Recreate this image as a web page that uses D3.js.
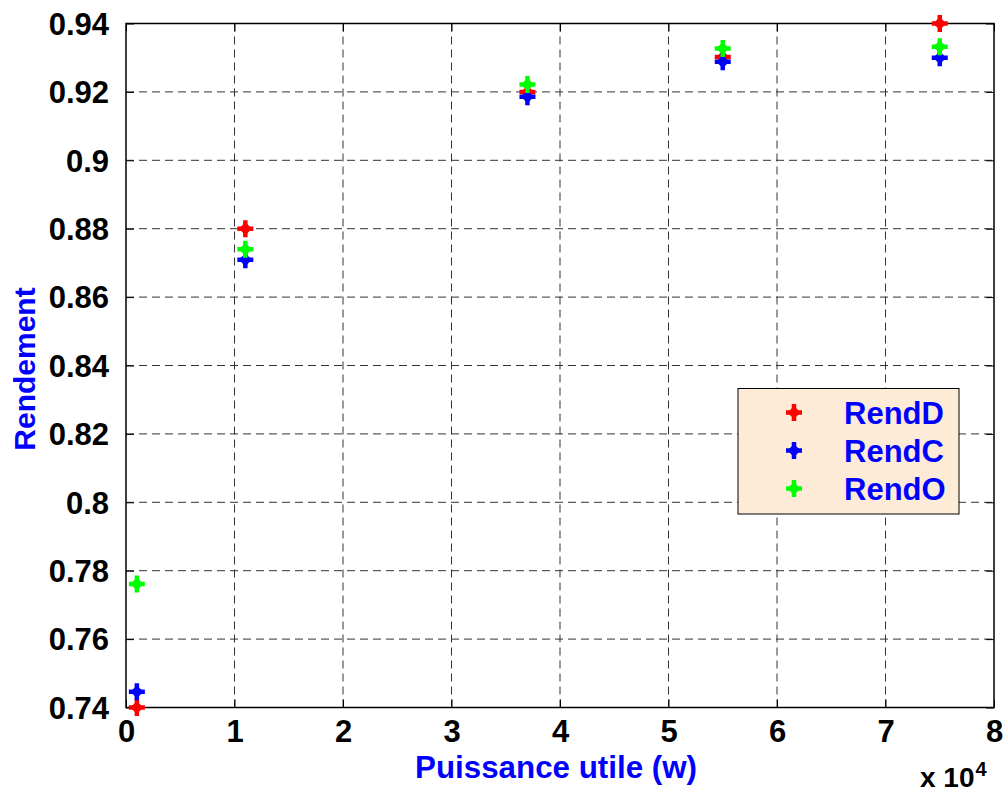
<!DOCTYPE html>
<html>
<head>
<meta charset="utf-8">
<script src="https://cdn.jsdelivr.net/npm/d3@7"></script>
<style>
  html, body { margin: 0; padding: 0; background: #fff; }
  svg { display: block; }
  text { font-family: "Liberation Sans", Arial, Helvetica, sans-serif; font-weight: bold; }
</style>
</head>
<body>
<svg id="chart" width="1004" height="792"></svg>
<script>
// Output power (W) at each operating point
const power = [1000, 11000, 37000, 55000, 75000];
// Efficiency series
const rendD = [0.740, 0.880, 0.920, 0.9302, 0.940];
const rendC = [0.7446, 0.8709, 0.9186, 0.9288, 0.9300];
const rendO = [0.7761, 0.8740, 0.9222, 0.9327, 0.9332];

const seriesNames = ["RendD", "RendC", "RendO"];
const seriesColors = ["#ff0000", "#0000ff", "#00ff00"];
const seriesValues = [rendD, rendC, rendO];

const xTicks = [0, 10000, 20000, 30000, 40000, 50000, 60000, 70000, 80000];
const yTicks = [0.74, 0.76, 0.78, 0.80, 0.82, 0.84, 0.86, 0.88, 0.90, 0.92, 0.94];

const xLabel = "Puissance utile (w)";
const yLabel = "Rendement";

const svg = d3.select("#chart");
const plotLeft = 126, plotRight = 994, plotTop = 23.5, plotBottom = 707.5;

const x = d3.scaleLinear().domain([0, 80000]).range([plotLeft, plotRight]);
const y = d3.scaleLinear().domain([0.74, 0.94]).range([plotBottom, plotTop]);

// Dashed grid
const grid = svg.append("g").attr("stroke", "#333").attr("stroke-width", 1)
  .attr("stroke-dasharray", "8,5").attr("fill", "none");
grid.selectAll("line.gx").data(xTicks.slice(1, -1)).join("line")
  .attr("class", "gx")
  .attr("x1", d => x(d)).attr("x2", d => x(d)).attr("y1", plotTop).attr("y2", plotBottom);
grid.selectAll("line.gy").data(yTicks.slice(1, -1)).join("line")
  .attr("class", "gy")
  .attr("x1", plotLeft).attr("x2", plotRight).attr("y1", d => y(d)).attr("y2", d => y(d));

// Axes with inward ticks; labels drawn by the axis generators
const fmtX = d => d3.format("d")(d / 10000);
const fmtY = d => String(+d.toFixed(2));

const xAxis = svg.append("g").attr("transform", `translate(0,${plotBottom})`)
  .call(d3.axisBottom(x).tickValues(xTicks).tickFormat(fmtX).tickSizeInner(-8).tickSizeOuter(0).tickPadding(14));
const yAxis = svg.append("g").attr("transform", `translate(${plotLeft},0)`)
  .call(d3.axisLeft(y).tickValues(yTicks).tickFormat(fmtY).tickSizeInner(-8).tickSizeOuter(0).tickPadding(17));
const xAxisTop = svg.append("g").attr("transform", `translate(0,${plotTop})`)
  .call(d3.axisTop(x).tickValues(xTicks).tickFormat("").tickSizeInner(-8).tickSizeOuter(0));
const yAxisRight = svg.append("g").attr("transform", `translate(${plotRight},0)`)
  .call(d3.axisRight(y).tickValues(yTicks).tickFormat("").tickSizeInner(-8).tickSizeOuter(0));

[xAxis, yAxis, xAxisTop, yAxisRight].forEach(g => {
  g.select(".domain").remove();
  g.selectAll(".tick line").attr("stroke", "#000").attr("stroke-width", 1);
  g.selectAll("text").attr("fill", "#000").attr("font-size", 31)
    .attr("font-family", "'Liberation Sans', Arial, sans-serif").attr("font-weight", "bold");
});
xAxis.selectAll("text").attr("dy", null).attr("y", 34);
yAxis.selectAll("text").attr("dy", "0.35em");

// Plot frame
svg.append("rect").attr("x", plotLeft).attr("y", plotTop)
  .attr("width", plotRight - plotLeft).attr("height", plotBottom - plotTop)
  .attr("fill", "none").attr("stroke", "#000").attr("stroke-width", 1.5);

// Exponent label
const expo = svg.append("text").attr("x", 920).attr("y", 787)
  .attr("font-size", 28).attr("fill", "#000");
expo.append("tspan").text("x 10");
expo.append("tspan").attr("font-size", 20).attr("dy", -11).attr("dx", 1).text("4");

// Axis titles
svg.append("text").attr("x", 556).attr("y", 778).attr("text-anchor", "middle")
  .attr("font-size", 31).attr("fill", "#0000ff")
  .attr("textLength", 282).attr("lengthAdjust", "spacingAndGlyphs").text(xLabel);
svg.append("text").attr("transform", "translate(35,369) rotate(-90)")
  .attr("text-anchor", "middle").attr("font-size", 30).attr("fill", "#0000ff").text(yLabel);

// Thick plus marker with diamond core
function drawMarker(g, cx, cy, color) {
  const m = g.append("g").attr("transform", `translate(${cx},${cy})`);
  m.append("path").attr("d", "M-8,0H8M0,-8.5V8.5")
    .attr("stroke", color).attr("stroke-width", 4.5).attr("fill", "none");
  m.append("path").attr("d", "M0,-6.5L6.5,0L0,6.5L-6.5,0Z").attr("fill", color);
}

const points = svg.append("g");
seriesValues.forEach((vals, si) => {
  vals.forEach((v, i) => drawMarker(points, x(power[i]), y(v), seriesColors[si]));
});

// Legend
const legend = svg.append("g");
legend.append("rect").attr("x", 738).attr("y", 388.5).attr("width", 221).attr("height", 125.5)
  .attr("fill", "#fdebd7").attr("stroke", "#000").attr("stroke-width", 1);
const legendY = d3.scalePoint().domain(seriesNames).range([412.5, 488.5]);
seriesNames.forEach((name, i) => {
  drawMarker(legend, 794, legendY(name), seriesColors[i]);
  legend.append("text").attr("x", 844).attr("y", legendY(name) + 11)
    .attr("font-size", 31).attr("fill", "#0000ff").text(name);
});
</script>
</body>
</html>
